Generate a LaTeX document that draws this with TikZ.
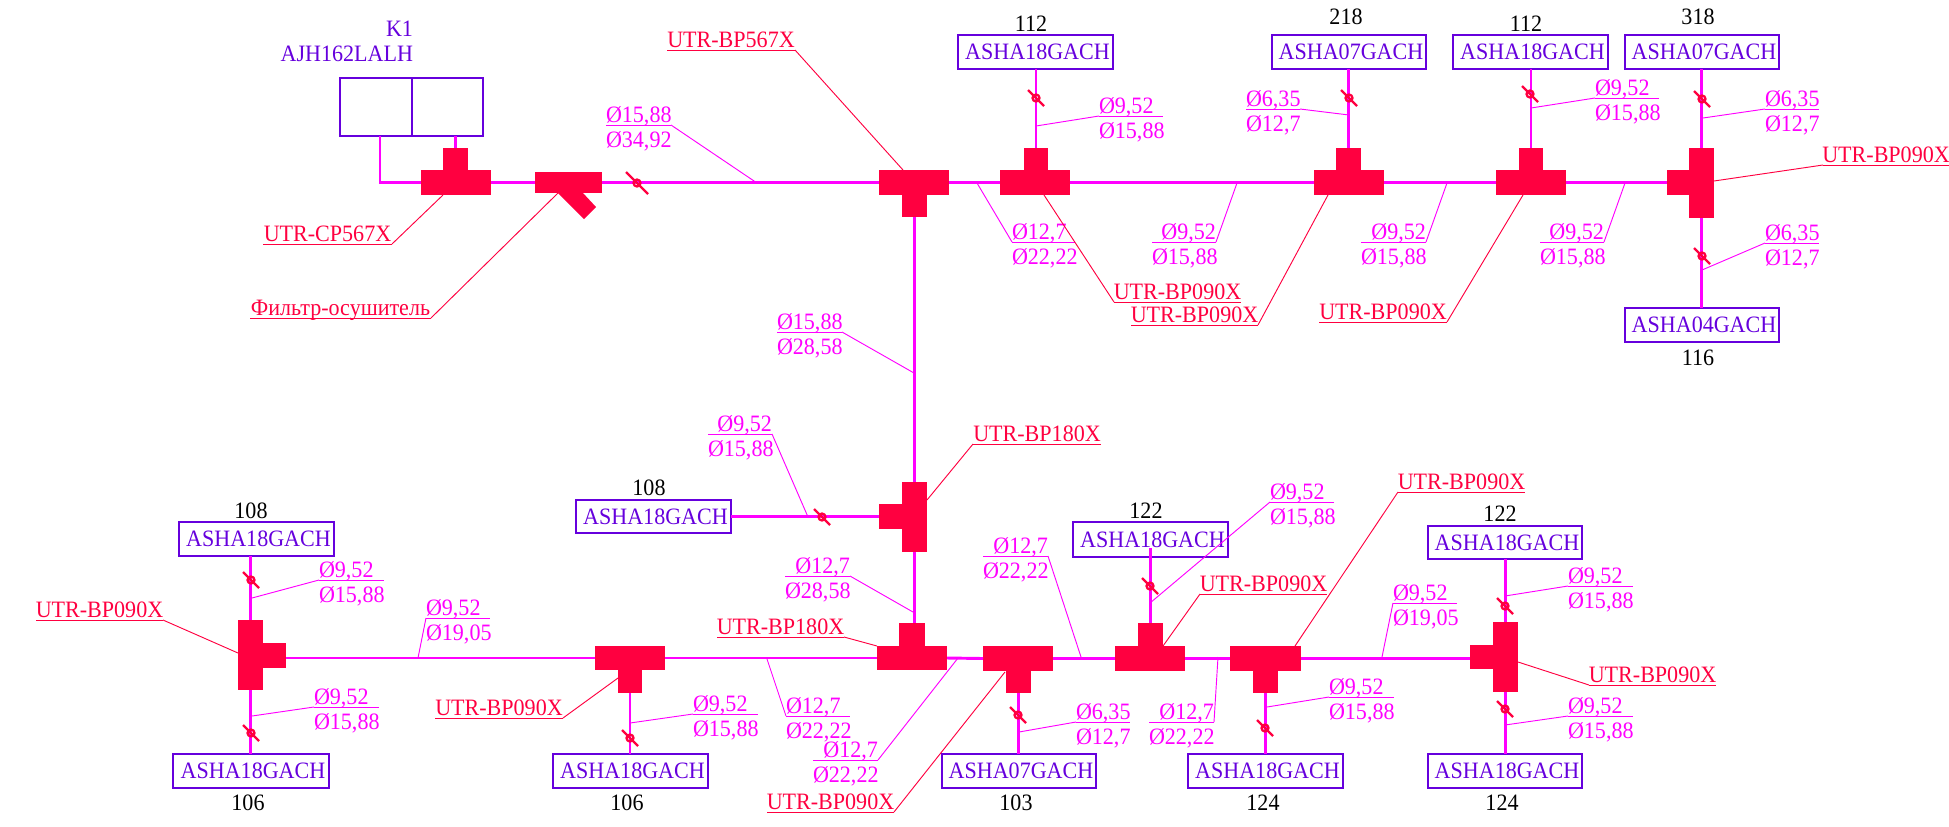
\documentclass[tikz,border=0pt]{standalone}
\usepackage{fontspec}
\setmainfont[FakeStretch=0.94]{Liberation Serif}
\usetikzlibrary{fit,calc}
\definecolor{fitc}{HTML}{FF0040}
\definecolor{pipec}{HTML}{FF00FF}
\definecolor{boxc}{HTML}{6600DD}
\tikzset{
  x=0.75pt,y=-0.75pt,
  txt/.style={inner sep=0pt,outer sep=0pt,font=\fontsize{17.6pt}{19pt}\selectfont},
  unitbox/.style={txt,draw=boxc,line width=2.1pt,text=boxc,align=center},
  blank/.style={draw=boxc,line width=2.1pt,inner sep=0pt,outer sep=0pt},
  fitpart/.style={fill=fitc,draw=none,inner sep=0pt,outer sep=0pt},
  pipe/.style={draw=pipec,line width=2.2pt},
  pipev/.style={draw=pipec,line width=1.6pt},
  leadm/.style={draw=pipec,line width=0.7pt},
  leadc/.style={draw=fitc,line width=0.7pt},
  dimtxt/.style={txt,text=pipec},
  parttxt/.style={txt,text=fitc},
  numtxt/.style={txt,text=black},
  unittxt/.style={txt,text=boxc},
  brkline/.style={draw=fitc,line width=1.7pt},
}
% box from corners, with text
\newcommand\ubox[6]{%
  \pgfmathsetlengthmacro\bw{(#4-#2)*0.75pt}%
  \pgfmathsetlengthmacro\bh{(#5-#3)*0.75pt}%
  \node[unitbox,minimum width=\bw,minimum height=\bh] (#1) at ($(#2,#3)!.5!(#4,#5)$) {\hspace*{3pt}#6};}
\newcommand\fpart[5]{\node[fitpart,fit={(#2,#3)(#4,#5)}] (#1) {};}
% pipe-size label, top text left / right aligned
\newcommand\dimL[6]{%
  \coordinate (#1-l) at (#2,#4); \coordinate (#1-r) at (#3,#4);
  \draw[leadm] (#1-l) -- (#1-r);
  \node[dimtxt,anchor=base west] (#1-a) at (#2,#4-3) {#5};
  \node[dimtxt,anchor=base west] (#1-b) at (#2,#4+22) {#6};}
\newcommand\dimR[6]{%
  \coordinate (#1-l) at (#2,#4); \coordinate (#1-r) at (#3,#4);
  \draw[leadm] (#1-l) -- (#1-r);
  \node[dimtxt,anchor=base east] (#1-a) at (#3,#4-3) {#5};
  \node[dimtxt,anchor=base west] (#1-b) at (#2,#4+22) {#6};}
\newcommand\leadM[3]{\coordinate (#1-e) at (#2,#3); \draw[leadm] (#1) -- (#1-e);}
\newcommand\partlab[5]{%
  \coordinate (#1-l) at (#2,#4); \coordinate (#1-r) at (#3,#4);
  \draw[leadc] (#1-l) -- (#1-r);
  \node[parttxt,anchor=base] (#1-t) at ($(#1-l)!.5!(#1-r)+(0,-3)$) {#5};}
\newcommand\leadC[3]{\coordinate (#1-e) at (#2,#3); \draw[leadc] (#1) -- (#1-e);}
\newcommand\brk[3]{%
  \draw[brkline] (#1-#3,#2-#3) -- (#1+#3,#2+#3);
  \draw[brkline] (#1,#2) circle[radius=3.5];}
\begin{document}
\begin{tikzpicture}
\useasboundingbox (0,0) rectangle (1949,826);

% --- units ---
\node[unittxt,anchor=base east] (k1name) at (413,36) {K1};
\node[unittxt,anchor=base east] (k1model) at (413,61) {AJH162LALH};
\node[blank,fit={(340,78)(412,136)}] (k1a) {};
\node[blank,fit={(412,78)(483,136)}] (k1b) {};

\ubox{u112a}{958}{35}{1113}{69}{ASHA18GACH}
\ubox{u218}{1272}{35}{1426}{69}{ASHA07GACH}
\ubox{u112b}{1453}{35}{1608}{69}{ASHA18GACH}
\ubox{u318}{1625}{35}{1779}{69}{ASHA07GACH}
\ubox{u116}{1625}{308}{1779}{342}{ASHA04GACH}
\ubox{u108a}{576}{500}{731}{533}{ASHA18GACH}
\ubox{u108b}{179}{522}{334}{556}{ASHA18GACH}
\ubox{u106a}{173}{754}{329}{788}{ASHA18GACH}
\ubox{u106b}{553}{754}{708}{788}{ASHA18GACH}
\ubox{u103}{942}{754}{1096}{788}{ASHA07GACH}
\ubox{u122a}{1073}{522}{1228}{557}{ASHA18GACH}
\ubox{u124a}{1188}{754}{1343}{788}{ASHA18GACH}
\ubox{u122b}{1428}{526}{1582}{559}{ASHA18GACH}
\ubox{u124b}{1428}{754}{1582}{788}{ASHA18GACH}

\node[numtxt] (n112a) at (1031,24) {112};
\node[numtxt] (n218) at (1346,17) {218};
\node[numtxt] (n112b) at (1526,24) {112};
\node[numtxt] (n318) at (1698,17) {318};
\node[numtxt] (n116) at (1698,358) {116};
\node[numtxt] (n108a) at (649,488) {108};
\node[numtxt] (n108b) at (251,511) {108};
\node[numtxt] (n106a) at (248,803) {106};
\node[numtxt] (n106b) at (627,803) {106};
\node[numtxt] (n103) at (1016,803) {103};
\node[numtxt] (n122a) at (1146,511) {122};
\node[numtxt] (n124a) at (1263,803) {124};
\node[numtxt] (n122b) at (1500,514) {122};
\node[numtxt] (n124b) at (1502,803) {124};

% --- fittings ---
\fpart{cpw}{421}{170}{491}{195}\fpart{cps}{443}{148}{468}{170}
\fpart{flt}{535}{172}{602}{193}
\fill[fitc] (558,193) -- (584,219) -- (596,207) -- (583,193) -- cycle;
\fpart{t1w}{879}{170}{949}{195}\fpart{t1s}{902}{195}{927}{217}
\fpart{t2w}{1000}{170}{1070}{195}\fpart{t2s}{1024}{148}{1048}{170}
\fpart{t3w}{1314}{170}{1384}{195}\fpart{t3s}{1336}{148}{1361}{170}
\fpart{t4w}{1496}{170}{1566}{195}\fpart{t4s}{1519}{148}{1543}{170}
\fpart{t5v}{1689}{148}{1714}{218}\fpart{t5s}{1667}{170}{1689}{195}
\fpart{m1v}{902}{482}{927}{552}\fpart{m1s}{879}{504}{902}{529}
\fpart{l1v}{238}{620}{263}{690}\fpart{l1s}{263}{643}{286}{668}
\fpart{l2w}{595}{646}{665}{670}\fpart{l2s}{618}{670}{642}{693}
\fpart{l3w}{877}{646}{947}{670}\fpart{l3s}{899}{623}{925}{646}
\fpart{l4w}{983}{646}{1053}{671}\fpart{l4s}{1006}{671}{1031}{693}
\fpart{l5w}{1115}{646}{1185}{671}\fpart{l5s}{1138}{623}{1163}{646}
\fpart{l6w}{1230}{646}{1301}{671}\fpart{l6s}{1253}{671}{1278}{693}
\fpart{l7v}{1493}{622}{1518}{692}\fpart{l7s}{1470}{645}{1493}{669}

% --- pipes ---
\coordinate (k1out) at ($(k1a.south)+(4,0)$);
\draw[pipe] (k1out) |- (cpw.west);
\draw[pipev] (cps.center |- k1b.south) -- (cps.north);
\draw[pipe] (cpw.east) -- (flt.west);
\draw[pipe] (flt.east) -- (t1w.west);
\draw[pipe] (t1w.east) -- (t2w.west);
\draw[pipe] (t2w.east) -- (t3w.west);
\draw[pipe] (t3w.east) -- (t4w.west);
\draw[pipe] (t4w.east) -- (t5s.west);
\draw[pipev] (t2s.center |- u112a.south) -- (t2s.north);
\draw[pipev] (t3s.center |- u218.south) -- (t3s.north);
\draw[pipev] (t4s.center |- u112b.south) -- (t4s.north);
\draw[pipev] (t5v.center |- u318.south) -- (t5v.north);
\draw[pipev] (t5v.south) -- (t5v.center |- u116.north);
\draw[pipev] (t1s.south) -- (t1s.south |- m1v.north);
\draw[pipev] (m1v.south) -- (m1v.south |- l3s.north);
\draw[pipe] (u108a.east) -- (m1s.west);
\draw[pipev] (l1v.center |- u108b.south) -- (l1v.north);
\draw[pipev] (l1v.south) -- (l1v.center |- u106a.north);
\draw[pipe] (l1s.east |- l2w.center) -- (l2w.west);
\draw[pipe] (l2w.east) -- (l3w.west);
\draw[pipe] (l3w.east) -- (l4w.west);
\draw[pipe] (l4w.east) -- (l5w.west);
\draw[pipe] (l5w.east) -- (l6w.west);
\draw[pipe] (l6w.east) -- (l7s.west |- l6w.east);
\draw[pipev] (l2s.south) -- (l2s.center |- u106b.north);
\draw[pipev] (l4s.south) -- (l4s.center |- u103.north);
\coordinate (p122) at (1150,548);
\draw[pipev] (l5s.center |- p122) -- (l5s.north);
\draw[pipev] (l6s.south) -- (l6s.center |- u124a.north);
\draw[pipev] (l7v.center |- u122b.south) -- (l7v.north);
\draw[pipev] (l7v.south) -- (l7v.center |- u124b.north);

% --- break marks ---
\brk{637}{183}{11}
\brk{1036}{98}{8}\brk{1349}{98}{8}\brk{1530}{94}{8}\brk{1702}{99}{8}\brk{1702}{256}{8}
\brk{822}{517}{8}
\brk{251}{580}{8}\brk{251}{733}{8}\brk{630}{738}{8}
\brk{1018}{715}{8}\brk{1150}{586}{8}\brk{1265}{728}{8}
\brk{1505}{606}{8}\brk{1505}{709}{8}

% --- pipe size labels ---
\dimL{d1}{606}{671}{125}{Ø15,88}{Ø34,92}\leadM{d1-r}{757}{183}
\dimL{d2}{777}{842}{332}{Ø15,88}{Ø28,58}\leadM{d2-r}{914}{373}
\dimR{d3}{708}{772}{434}{Ø9,52}{Ø15,88}\leadM{d3-r}{808}{517}
\dimL{d4}{1099}{1163}{116}{Ø9,52}{Ø15,88}\leadM{d4-l}{1036}{126}
\dimL{d5}{1246}{1300}{109}{Ø6,35}{Ø12,7}\leadM{d5-r}{1349}{115}
\dimL{d6}{1595}{1659}{98}{Ø9,52}{Ø15,88}\leadM{d6-l}{1531}{108}
\dimL{d7}{1765}{1819}{109}{Ø6,35}{Ø12,7}\leadM{d7-l}{1703}{118}
\dimL{d8}{1765}{1819}{243}{Ø6,35}{Ø12,7}\leadM{d8-l}{1702}{270}
\dimL{d9}{1012}{1075}{242}{Ø12,7}{Ø22,22}\leadM{d9-l}{977}{183}
\dimR{d10}{1152}{1216}{242}{Ø9,52}{Ø15,88}\leadM{d10-r}{1237}{183}
\dimR{d11}{1361}{1426}{242}{Ø9,52}{Ø15,88}\leadM{d11-r}{1447}{183}
\dimR{d12}{1540}{1604}{242}{Ø9,52}{Ø15,88}\leadM{d12-r}{1625}{183}
\dimL{d13}{319}{384}{580}{Ø9,52}{Ø15,88}\leadM{d13-l}{252}{598}
\dimL{d14}{314}{379}{707}{Ø9,52}{Ø15,88}\leadM{d14-l}{252}{716}
\dimL{d15}{426}{490}{618}{Ø9,52}{Ø19,05}\leadM{d15-l}{418}{658}
\dimL{d16}{693}{758}{714}{Ø9,52}{Ø15,88}\leadM{d16-l}{630}{723}
\dimL{d17}{786}{850}{716}{Ø12,7}{Ø22,22}\leadM{d17-l}{767}{659}
\dimR{d18}{785}{850}{576}{Ø12,7}{Ø28,58}\leadM{d18-r}{913}{612}
\dimR{d19}{813}{878}{760}{Ø12,7}{Ø22,22}\leadM{d19-r}{958}{658}
\dimR{d20}{983}{1048}{556}{Ø12,7}{Ø22,22}\leadM{d20-r}{1081}{657}
\dimL{d21}{1076}{1130}{722}{Ø6,35}{Ø12,7}\leadM{d21-l}{1019}{732}
\dimL{d22}{1270}{1334}{502}{Ø9,52}{Ø15,88}\leadM{d22-l}{1150}{603}
\dimR{d23}{1149}{1214}{722}{Ø12,7}{Ø22,22}\leadM{d23-r}{1218}{657}
\dimL{d24}{1329}{1394}{697}{Ø9,52}{Ø15,88}\leadM{d24-l}{1267}{707}
\dimL{d25}{1393}{1457}{603}{Ø9,52}{Ø19,05}\leadM{d25-l}{1382}{657}
\dimL{d26}{1568}{1633}{586}{Ø9,52}{Ø15,88}\leadM{d26-l}{1505}{596}
\dimL{d27}{1568}{1633}{716}{Ø9,52}{Ø15,88}\leadM{d27-l}{1505}{725}

% --- fitting labels ---
\partlab{p1}{667}{795}{50}{UTR-BP567X}\leadC{p1-r}{903}{170}
\partlab{p2}{263}{392}{244}{UTR-CP567X}\leadC{p2-r}{443}{195}
\partlab{p3}{250}{431}{318}{Фильтр-осушитель}\leadC{p3-r}{558}{193}
\partlab{p4}{1114}{1241}{302}{UTR-BP090X}\leadC{p4-l}{1044}{195}
\partlab{p5}{1131}{1258}{325}{UTR-BP090X}\leadC{p5-r}{1328}{195}
\partlab{p6}{1319}{1447}{322}{UTR-BP090X}\leadC{p6-r}{1523}{195}
\partlab{p7}{1823}{1949}{165}{UTR-BP090X}\leadC{p7-l}{1714}{181}
\partlab{p8}{973}{1101}{444}{UTR-BP180X}\leadC{p8-l}{927}{500}
\partlab{p9}{36}{163}{620}{UTR-BP090X}\leadC{p9-r}{238}{653}
\partlab{p10}{435}{563}{718}{UTR-BP090X}\leadC{p10-r}{618}{678}
\partlab{p11}{717}{844}{637}{UTR-BP180X}\leadC{p11-r}{877}{646}
\partlab{p12}{767}{894}{812}{UTR-BP090X}\leadC{p12-r}{1005}{672}
\partlab{p13}{1200}{1327}{594}{UTR-BP090X}\leadC{p13-l}{1163}{646}
\partlab{p14}{1398}{1525}{492}{UTR-BP090X}\leadC{p14-l}{1295}{646}
\partlab{p15}{1589}{1716}{685}{UTR-BP090X}\leadC{p15-l}{1518}{662}
\end{tikzpicture}
\end{document}
